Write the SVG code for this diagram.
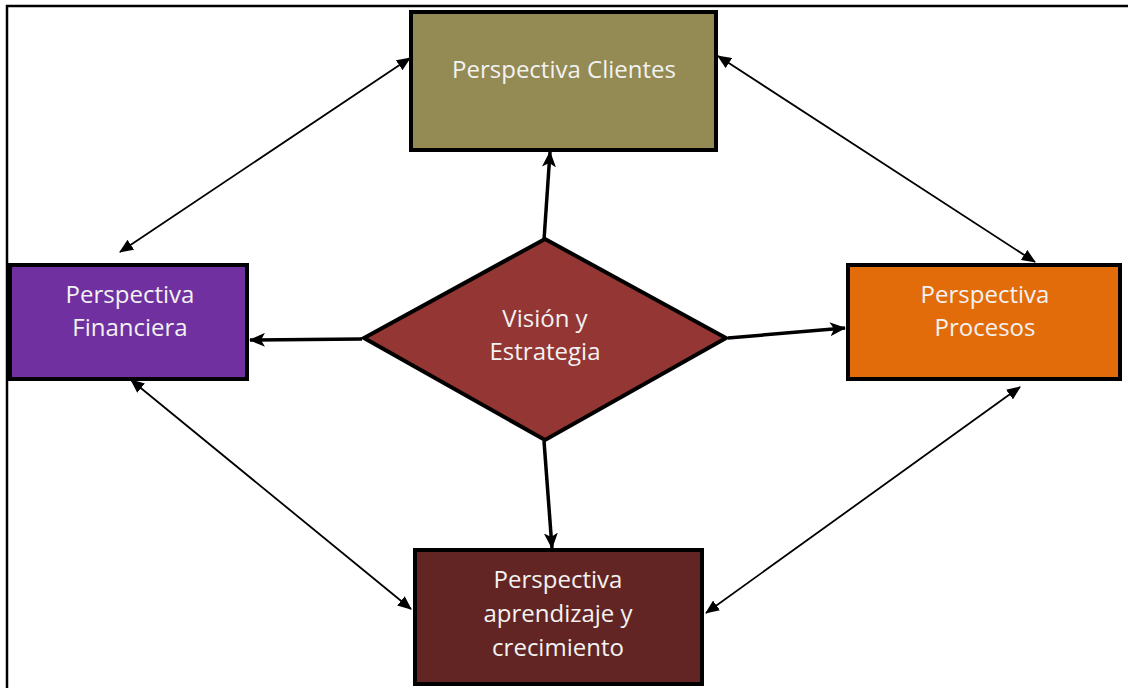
<svg xmlns="http://www.w3.org/2000/svg" width="1128" height="688" viewBox="0 0 1128 688">
<style>
.box{stroke:#000;stroke-width:4}
.lbl{font-family:"Open Sans","Noto Sans",sans-serif;font-size:24px;fill:#F2F2F2;text-anchor:middle}
.thick{stroke:#000;stroke-width:3.5;fill:none}
.thin{stroke:#000;stroke-width:1.8;fill:none}
</style>
<defs>
<marker id="ah" markerUnits="userSpaceOnUse" markerWidth="16" markerHeight="14" refX="15" refY="7" orient="auto">
<path d="M0,0 L16,7 L0,14 L4,7 Z" fill="#000"/>
</marker>
<marker id="at" markerUnits="userSpaceOnUse" markerWidth="14" markerHeight="12" refX="13" refY="6" orient="auto-start-reverse">
<path d="M0,0 L14,6 L0,12 Z" fill="#000"/>
</marker>
</defs>
<rect width="1128" height="688" fill="#fff"/>
<path d="M7,688 V6 H1128" stroke="#000" stroke-width="2.5" fill="none"/>
<g id="connectors">
<line class="thick" x1="544" y1="240" x2="550" y2="152" marker-end="url(#ah)"/>
<line class="thick" x1="362" y1="339" x2="250" y2="340" marker-end="url(#ah)"/>
<line class="thick" x1="728" y1="338" x2="845" y2="328" marker-end="url(#ah)"/>
<line class="thick" x1="544" y1="441" x2="552" y2="548" marker-end="url(#ah)"/>
<line class="thin" x1="120" y1="252" x2="410" y2="58" marker-start="url(#at)" marker-end="url(#at)"/>
<line class="thin" x1="718" y1="56" x2="1035" y2="262" marker-start="url(#at)" marker-end="url(#at)"/>
<line class="thin" x1="131" y1="380" x2="411" y2="609" marker-start="url(#at)" marker-end="url(#at)"/>
<line class="thin" x1="1020" y1="387" x2="706" y2="613" marker-start="url(#at)" marker-end="url(#at)"/>
</g>
<g id="clientes">
<rect class="box" x="411" y="12" width="305" height="138" fill="#948A54"/>
<text class="lbl" x="564" y="78">Perspectiva Clientes</text>
</g>
<g id="financiera">
<rect class="box" x="10" y="265" width="237" height="114" fill="#7030A0"/>
<text class="lbl" x="130" y="303">Perspectiva</text>
<text class="lbl" x="130" y="336">Financiera</text>
</g>
<g id="procesos">
<rect class="box" x="848" y="265" width="272" height="114" fill="#E36C0A"/>
<text class="lbl" x="985" y="303">Perspectiva</text>
<text class="lbl" x="985" y="336">Procesos</text>
</g>
<g id="vision">
<polygon class="box" points="545,239 726,338 545,440 364,338" fill="#943634" stroke-linejoin="miter"/>
<text class="lbl" x="545" y="327">Visión y</text>
<text class="lbl" x="545" y="360">Estrategia</text>
</g>
<g id="aprendizaje">
<rect class="box" x="415" y="550" width="287" height="134" fill="#632523"/>
<text class="lbl" x="558" y="588">Perspectiva</text>
<text class="lbl" x="558" y="622">aprendizaje y</text>
<text class="lbl" x="558" y="656">crecimiento</text>
</g>
</svg>
